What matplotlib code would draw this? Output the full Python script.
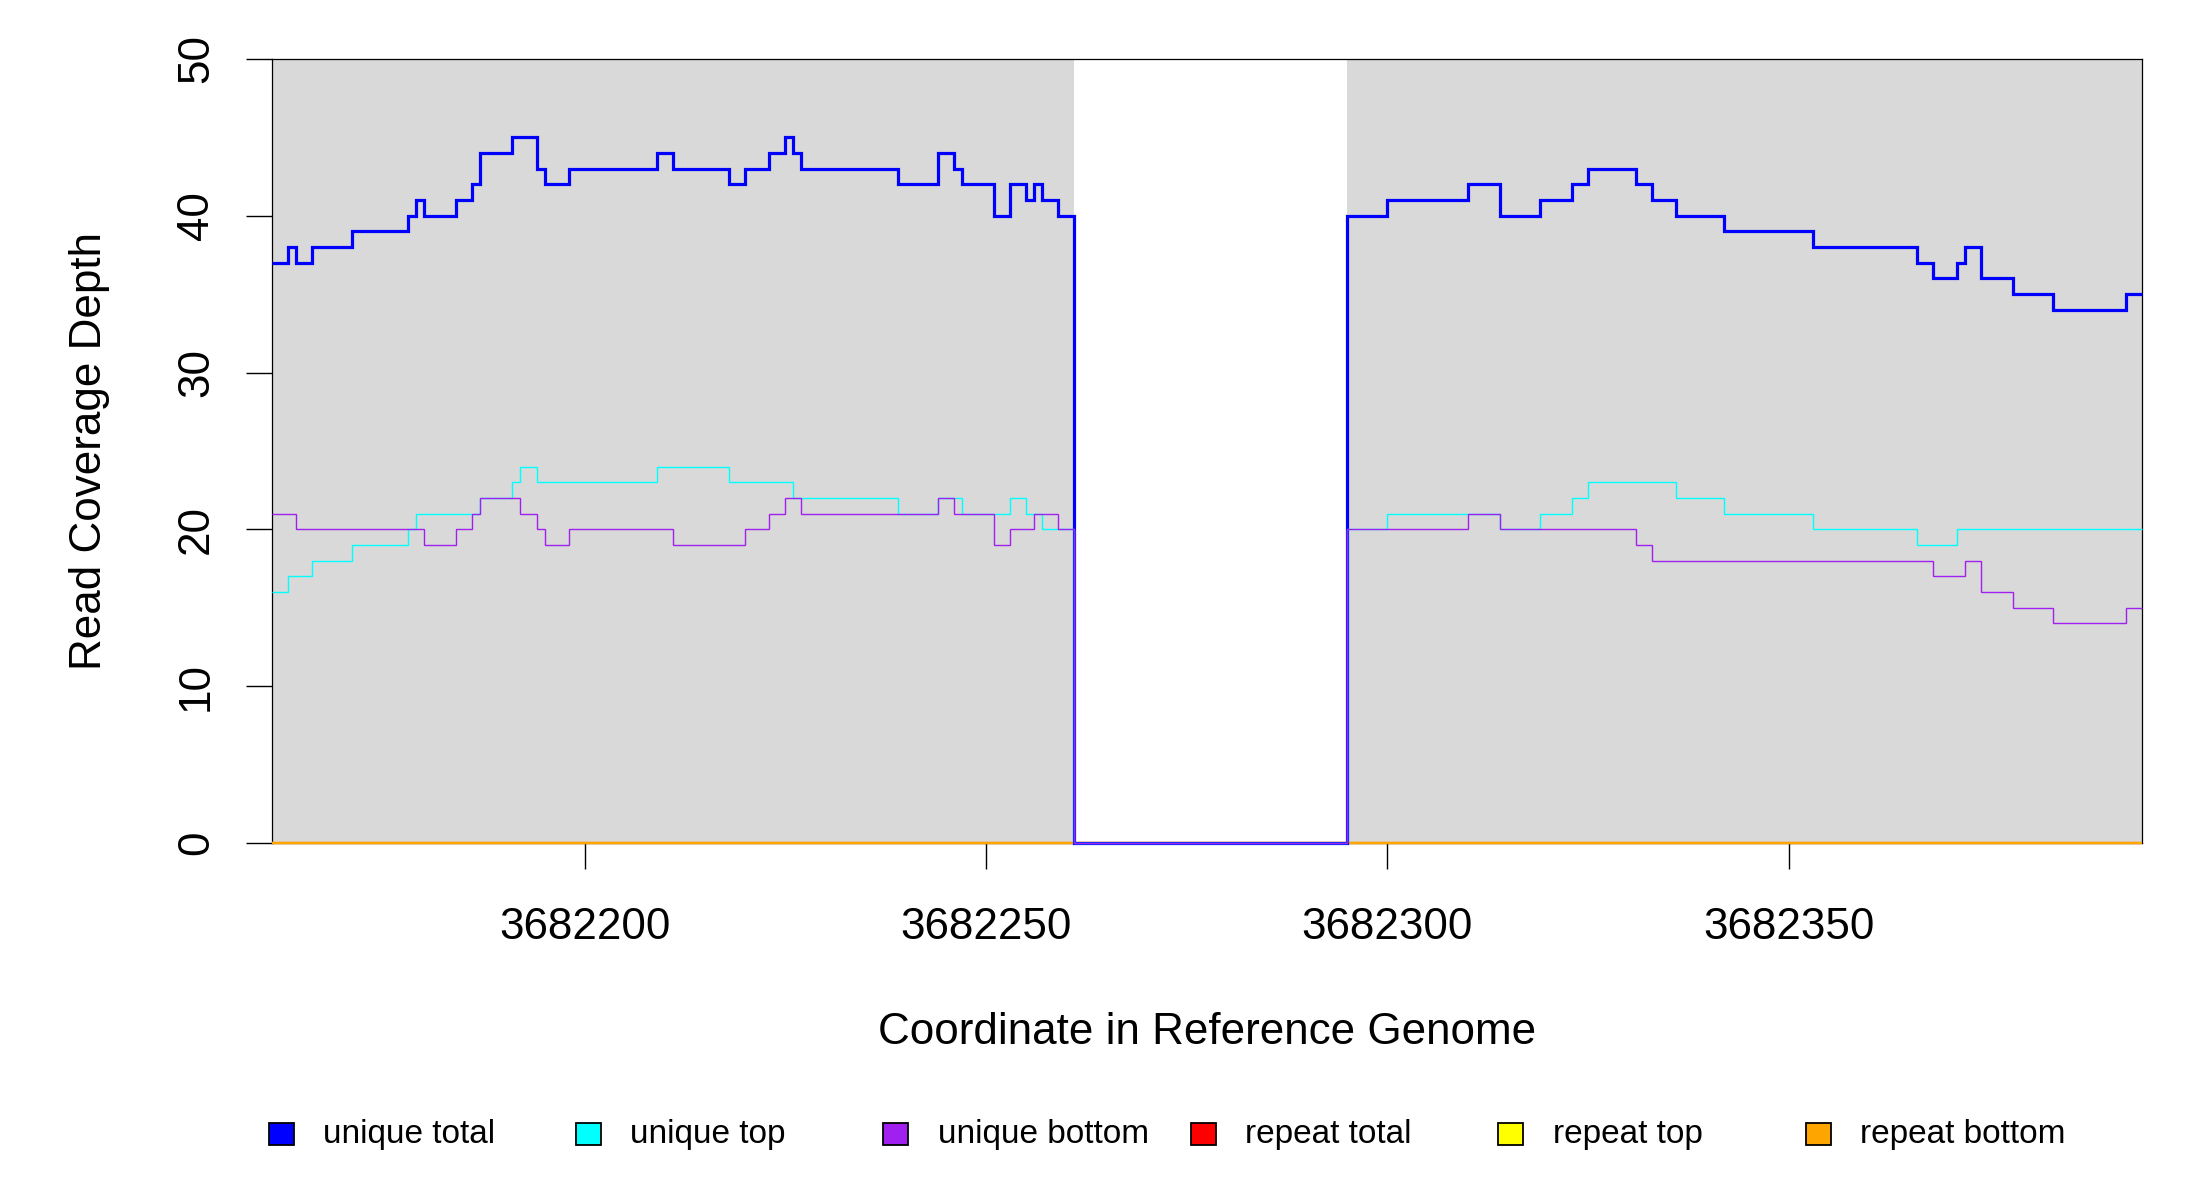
import numpy as np
import matplotlib
matplotlib.use("Agg")
import matplotlib.pyplot as plt
from matplotlib.patches import Rectangle

plt.rcParams['font.family'] = ['Liberation Sans', 'DejaVu Sans']

# ---- coordinates of the two covered regions ----
left_start = 3682161
left_end = 3682261
right_start = 3682295
right_end = 3682394

# ---- run-length coverage (run lengths in bp, depth values) ----
# left region
total_left_len = [2, 1, 2, 5, 7, 1, 1, 4, 2, 1, 4, 3, 1, 3, 11, 2, 7, 2, 3, 2, 1, 1, 12, 5, 2, 1, 4, 2, 2, 1, 1, 2, 2]
total_left_val = [37, 38, 37, 38, 39, 40, 41, 40, 41, 42, 44, 45, 43, 42, 43, 44, 43, 42, 43, 44, 45, 44, 43, 42, 44, 43, 42, 40, 42, 41, 42, 41, 40]

top_left_len = [2, 3, 5, 7, 1, 8, 4, 1, 2, 15, 9, 8, 13, 5, 3, 6, 2, 2, 4]
top_left_val = [16, 17, 18, 19, 20, 21, 22, 23, 24, 23, 24, 23, 22, 21, 22, 21, 22, 21, 20]

bottom_left_len = [3, 16, 4, 2, 1, 5, 2, 1, 3, 13, 9, 3, 2, 2, 17, 2, 5, 2, 3, 3, 2]
bottom_left_val = [21, 20, 19, 20, 21, 22, 21, 20, 19, 20, 19, 20, 21, 22, 21, 22, 21, 19, 20, 21, 20]

# right region
total_right_len = [5, 10, 4, 5, 4, 2, 6, 2, 3, 6, 11, 13, 2, 3, 1, 2, 4, 5, 9, 2]
total_right_val = [40, 41, 42, 40, 41, 42, 43, 42, 41, 40, 39, 38, 37, 36, 37, 38, 36, 35, 34, 35]

top_right_len = [5, 14, 5, 4, 2, 11, 6, 11, 13, 5, 23]
top_right_val = [20, 21, 20, 21, 22, 23, 22, 21, 20, 19, 20]

bottom_right_len = [15, 4, 17, 2, 35, 4, 2, 4, 5, 9, 2]
bottom_right_val = [20, 21, 20, 19, 18, 17, 18, 16, 15, 14, 15]

gap_value = 0

# repeat coverage (all zero)
repeat_total_val = [0]
repeat_top_val = [0]
repeat_bottom_val = [0]

x_ticks = [3682200, 3682250, 3682300, 3682350]
y_ticks = [0, 10, 20, 30, 40, 50]

legend_labels = ["unique total", "unique top", "unique bottom",
                 "repeat total", "repeat top", "repeat bottom"]
legend_colors = ["#0000FF", "#00FFFF", "#A020F0", "#FF0000", "#FFFF00", "#FFA500"]


def build(l_len, l_val, r_len, r_val):
    edges = ([left_start] + list(left_start + np.cumsum(l_len)) +
             [right_start] + list(right_start + np.cumsum(r_len)))
    values = list(l_val) + [gap_value] + list(r_val)
    return np.array(values, dtype=float), np.array(edges, dtype=float)


W, H = 2200, 1200
fig = plt.figure(figsize=(W / 100, H / 100), dpi=100)
fig.patch.set_facecolor("white")

ax_l, ax_r, ax_t, ax_b = 271.7, 2141.7, 58.9, 842.9
ax = fig.add_axes([ax_l / W, 1 - ax_b / H, (ax_r - ax_l) / W, (ax_b - ax_t) / H])
ax.set_facecolor("white")

ax.axvspan(left_start, left_end, color="#D9D9D9", lw=0, zorder=0)
ax.axvspan(right_start, right_end, color="#D9D9D9", lw=0, zorder=0)

full_edges = np.array([left_start, right_end], dtype=float)
for vals, col in [(repeat_total_val, legend_colors[3]),
                  (repeat_top_val, legend_colors[4]),
                  (repeat_bottom_val, legend_colors[5])]:
    ax.stairs(vals, full_edges, baseline=None, color=col, lw=1.6,
              zorder=3, clip_on=False)

v, e = build(total_left_len, total_left_val, total_right_len, total_right_val)
ax.stairs(v, e, baseline=None, color=legend_colors[0], lw=2.3, zorder=4, clip_on=False)
v, e = build(top_left_len, top_left_val, top_right_len, top_right_val)
ax.stairs(v, e, baseline=None, color=legend_colors[1], lw=1.0, zorder=5, clip_on=False)
v, e = build(bottom_left_len, bottom_left_val, bottom_right_len, bottom_right_val)
ax.stairs(v, e, baseline=None, color=legend_colors[2], lw=1.0, zorder=6, clip_on=False)

ax.set_xlim(left_start, right_end)
ax.set_ylim(0, 50)

for s in ax.spines.values():
    s.set_linewidth(0.9)
    s.set_color("black")

fs = 31.7
ax.set_xticks(x_ticks)
ax.set_xticklabels([str(t) for t in x_ticks])
ax.set_yticks(y_ticks)
ax.set_yticklabels([str(t) for t in y_ticks])
ax.tick_params(axis="x", length=18.5, width=1.0, pad=27.5, labelsize=fs, direction="out")
ax.tick_params(axis="y", length=18.5, width=1.0, pad=21, labelsize=fs, direction="out",
               labelrotation=90)
for lab in ax.get_yticklabels():
    lab.set_va("center")

fig.text(1207 / W, 1 - 1033 / H, "Coordinate in Reference Genome",
         ha="center", va="center", fontsize=fs)
fig.text(90 / W, 1 - 451 / H, "Read Coverage Depth", rotation=90,
         ha="center", va="center", fontsize=fs)

# legend row
box_w, box_h = 25, 22
for i, (lab, col) in enumerate(zip(legend_labels, legend_colors)):
    cx = 281 + 307.4 * i
    cy = 1133.5
    fig.add_artist(Rectangle(((cx - box_w / 2) / W, 1 - (cy + box_h / 2) / H),
                             box_w / W, box_h / H, transform=fig.transFigure,
                             facecolor=col, edgecolor="black", lw=1.3))
    fig.text((cx + 42) / W, 1 - 1135 / H, lab, ha="left", va="center", fontsize=24)

fig.savefig("out.png", dpi=100)
